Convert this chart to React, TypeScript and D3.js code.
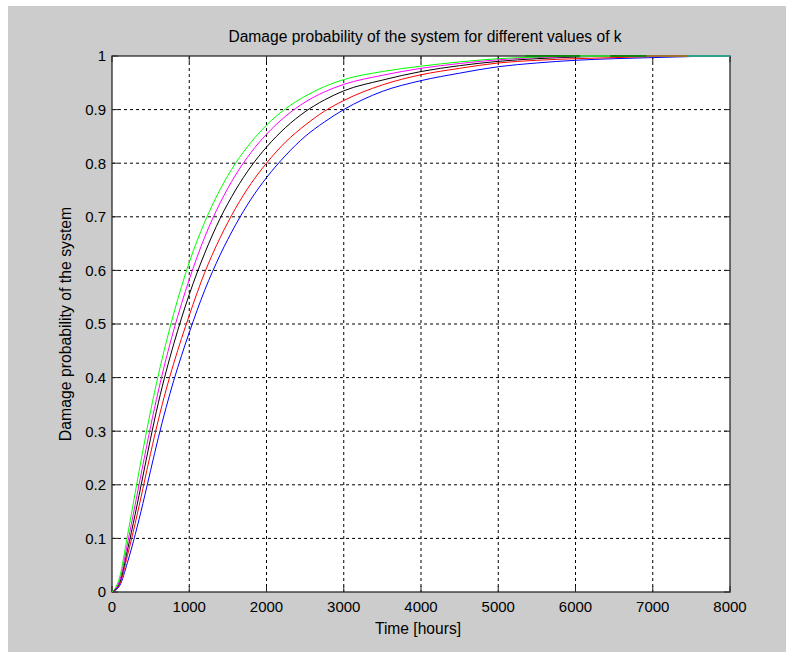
import React from "react";
import * as d3 from "d3";

// Time grid (hours)
const times = [0, 100, 200, 300, 400, 500, 600, 700, 800, 900, 1000, 1200, 1400, 1600, 1800, 2000, 2250, 2500, 2750, 3000, 3500, 4000, 4500, 5000, 5500, 6000, 6500, 7000, 7500, 8000];

// Damage probability curves
const curveGreen = [0, 0.028, 0.105, 0.185, 0.264, 0.338, 0.405, 0.465, 0.52, 0.57, 0.615, 0.69, 0.751, 0.8, 0.839, 0.871, 0.902, 0.925, 0.943, 0.956, 0.971, 0.981, 0.989, 0.995, 0.998, 1, 1, 1, 1, 1];
const curveMagenta = [0, 0.022, 0.09, 0.163, 0.237, 0.309, 0.375, 0.435, 0.489, 0.538, 0.583, 0.662, 0.726, 0.778, 0.82, 0.854, 0.888, 0.914, 0.933, 0.947, 0.964, 0.977, 0.986, 0.993, 0.997, 0.999, 1, 1, 1, 1];
const curveBlack = [0, 0.018, 0.078, 0.145, 0.216, 0.287, 0.353, 0.411, 0.463, 0.511, 0.555, 0.632, 0.697, 0.75, 0.794, 0.83, 0.867, 0.896, 0.918, 0.935, 0.955, 0.971, 0.982, 0.99, 0.995, 0.998, 1, 1, 1, 1];
const curveRed = [0, 0.015, 0.068, 0.128, 0.193, 0.259, 0.321, 0.377, 0.427, 0.473, 0.516, 0.596, 0.661, 0.716, 0.762, 0.8, 0.84, 0.871, 0.897, 0.917, 0.946, 0.965, 0.977, 0.987, 0.992, 0.995, 0.997, 0.999, 1, 1];
const curveBlue = [0, 0.012, 0.055, 0.107, 0.165, 0.227, 0.288, 0.344, 0.395, 0.441, 0.484, 0.563, 0.629, 0.685, 0.733, 0.773, 0.815, 0.85, 0.877, 0.9, 0.934, 0.954, 0.968, 0.98, 0.987, 0.992, 0.995, 0.997, 0.999, 1];

const seriesList = [curveBlue, curveRed, curveBlack, curveMagenta, curveGreen];
const seriesColors = ["#0000ff", "#ff0000", "#000000", "#ff00ff", "#00ff00"];

// Saturated segments along probability = 1 (other k values overlapping at the top)
const topSegStart = [5350, 6060, 6450, 6920, 7440];
const topSegEnd = [6060, 6450, 6920, 7440, 8000];
const topSegColor = ["#007f00", "#33dd33", "#007f00", "#b86a2a", "#2aa8a0"];

const xTicks = [0, 1000, 2000, 3000, 4000, 5000, 6000, 7000, 8000];
const yTicks = [0, 0.1, 0.2, 0.3, 0.4, 0.5, 0.6, 0.7, 0.8, 0.9, 1];
const yTickLabels = ["0", "0.1", "0.2", "0.3", "0.4", "0.5", "0.6", "0.7", "0.8", "0.9", "1"];

const titleText = "Damage probability of the system for different values of k";
const xLabel = "Time [hours]";
const yLabel = "Damage probability of the system";

export default function App() {
  const W = 792, H = 659;
  const left = 112, right = 730, top = 56, bottom = 592;
  const x = d3.scaleLinear().domain([0, 8000]).range([left, right]);
  const y = d3.scaleLinear().domain([0, 1]).range([bottom, top]);
  const line = d3
    .line<number>()
    .x((_, i) => x(times[i]))
    .y((d) => y(d))
    .curve(d3.curveMonotoneX);
  const font = "'Liberation Sans', Arial, sans-serif";
  const tickLen = 6;

  return (
    <svg width={W} height={H} style={{ position: "absolute", left: 0, top: 0 }} fontFamily={font}>
      <rect x={0} y={0} width={W} height={H} fill="#ffffff" />
      <rect x={8} y={6} width={778} height={646} fill="#cccccc" />
      <rect x={left} y={top} width={right - left} height={bottom - top} fill="#ffffff" />
      {/* grid */}
      {xTicks.slice(1, -1).map((t) => (
        <line key={"gx" + t} x1={x(t)} x2={x(t)} y1={top} y2={bottom} stroke="#000" strokeWidth={1} strokeDasharray="3,3" />
      ))}
      {yTicks.slice(1, -1).map((t) => (
        <line key={"gy" + t} x1={left} x2={right} y1={y(t)} y2={y(t)} stroke="#000" strokeWidth={1} strokeDasharray="3,3" />
      ))}
      {/* ticks */}
      {xTicks.map((t) => (
        <g key={"tx" + t}>
          <line x1={x(t)} x2={x(t)} y1={bottom} y2={bottom - tickLen} stroke="#222" />
          <line x1={x(t)} x2={x(t)} y1={top} y2={top + tickLen} stroke="#222" />
        </g>
      ))}
      {yTicks.map((t) => (
        <g key={"ty" + t}>
          <line x1={left} x2={left + tickLen} y1={y(t)} y2={y(t)} stroke="#222" />
          <line x1={right} x2={right - tickLen} y1={y(t)} y2={y(t)} stroke="#222" />
        </g>
      ))}
      <rect x={left} y={top} width={right - left} height={bottom - top} fill="none" stroke="#2a2a2a" strokeWidth={1.3} />
      {/* curves */}
      {seriesList.map((s, i) => (
        <path key={"s" + i} d={line(s) || ""} fill="none" stroke={seriesColors[i]} strokeWidth={1} />
      ))}
      {topSegStart.map((s, i) => (
        <line key={"ts" + i} x1={x(s)} x2={x(topSegEnd[i])} y1={y(1)} y2={y(1)} stroke={topSegColor[i]} strokeWidth={1.5} />
      ))}
      {/* tick labels */}
      {xTicks.map((t) => (
        <text key={"lx" + t} x={x(t)} y={612} textAnchor="middle" fontSize={15} fill="#000">
          {String(t)}
        </text>
      ))}
      {yTicks.map((t, i) => (
        <text key={"ly" + t} x={106} y={y(t)} dy="0.36em" textAnchor="end" fontSize={15} fill="#000">
          {yTickLabels[i]}
        </text>
      ))}
      <text x={(left + right) / 2 + 4} y={42} textAnchor="middle" fontSize={15.6} fill="#000">
        {titleText}
      </text>
      <text x={(left + right) / 2 - 3} y={634} textAnchor="middle" fontSize={15.6} fill="#000">
        {xLabel}
      </text>
      <text transform={`translate(71, ${(top + bottom) / 2}) rotate(-90)`} textAnchor="middle" fontSize={15.8} fill="#000">
        {yLabel}
      </text>
    </svg>
  );
}
